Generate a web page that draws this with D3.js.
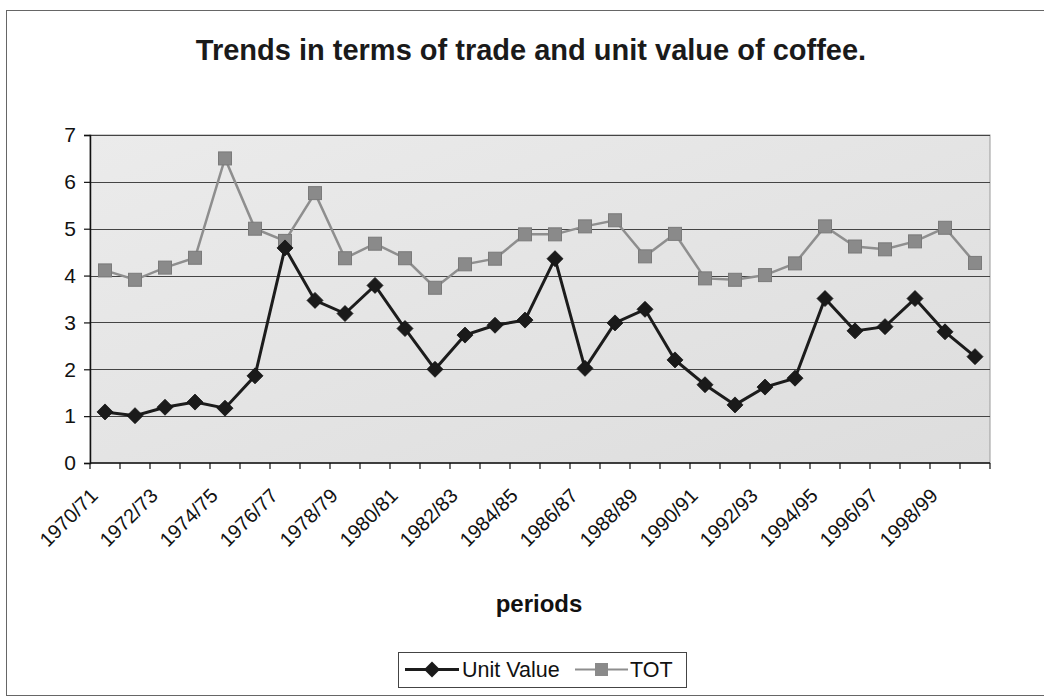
<!DOCTYPE html>
<html>
<head>
<meta charset="utf-8">
<script src="https://cdn.jsdelivr.net/npm/d3@7"></script>
<style>
  html, body { margin: 0; padding: 0; background: #fff; }
  svg { display: block; font-family: "Liberation Sans", Arial, sans-serif; }
</style>
</head>
<body>
<svg id="chart" width="1044" height="697"></svg>
<script>
// Crop years (one entry per marker on the chart)
const periods = [
  "1970/71","1971/72","1972/73","1973/74","1974/75","1975/76","1976/77","1977/78",
  "1978/79","1979/80","1980/81","1981/82","1982/83","1983/84","1984/85","1985/86",
  "1986/87","1987/88","1988/89","1989/90","1990/91","1991/92","1992/93","1993/94",
  "1994/95","1995/96","1996/97","1997/98","1998/99","1999/00"
];

// Unit value of coffee exports
const unitValue = [
  1.09, 1.01, 1.19, 1.30, 1.17, 1.86, 4.59, 3.47, 3.19, 3.79,
  2.87, 2.00, 2.73, 2.94, 3.05, 4.36, 2.02, 2.99, 3.28, 2.20,
  1.67, 1.24, 1.62, 1.81, 3.51, 2.82, 2.91, 3.51, 2.80, 2.27
];

// Terms of trade
const tot = [
  4.11, 3.91, 4.17, 4.38, 6.50, 5.00, 4.74, 5.76, 4.37, 4.68,
  4.37, 3.74, 4.24, 4.36, 4.88, 4.88, 5.05, 5.18, 4.41, 4.89,
  3.94, 3.91, 4.01, 4.26, 5.05, 4.62, 4.56, 4.73, 5.02, 4.27
];

const yTicks = [0, 1, 2, 3, 4, 5, 6, 7];
const labelEvery = 2;

const svg = d3.select("#chart");
const W = 1044;
const plot = { left: 90, right: 990, top: 135, bottom: 463 };

// Outer chart frame
svg.append("rect")
  .attr("x", 6.5).attr("y", 10.5)
  .attr("width", W + 10).attr("height", 685)
  .attr("fill", "#fff")
  .attr("stroke", "#666").attr("stroke-width", 1);

// Plot background gradient
const defs = svg.append("defs");
const grad = defs.append("linearGradient").attr("id", "plotBg")
  .attr("x1", "0").attr("y1", "0").attr("x2", "1").attr("y2", "1");
grad.append("stop").attr("offset", "0%").attr("stop-color", "#ebebeb");
grad.append("stop").attr("offset", "100%").attr("stop-color", "#dddddd");

const x = d3.scaleBand().domain(periods).range([plot.left, plot.right]).padding(0);
const y = d3.scaleLinear().domain([0, 7]).range([plot.bottom, plot.top]);
const cx = d => x(d) + x.bandwidth() / 2;

svg.append("rect")
  .attr("x", plot.left).attr("y", plot.top)
  .attr("width", plot.right - plot.left).attr("height", plot.bottom - plot.top)
  .attr("fill", "url(#plotBg)")
  .attr("stroke", "#9a9a9a").attr("stroke-width", 1);

// Horizontal gridlines
svg.append("g").selectAll("line")
  .data(yTicks.filter(t => t > 0))
  .join("line")
  .attr("x1", plot.left).attr("x2", plot.right)
  .attr("y1", d => Math.round(y(d)) + 0.5).attr("y2", d => Math.round(y(d)) + 0.5)
  .attr("stroke", "#444").attr("stroke-width", 1.2);

// Y axis
const yAxis = svg.append("g")
  .attr("transform", `translate(${plot.left},0)`)
  .call(d3.axisLeft(y).tickValues(yTicks).tickSize(6).tickPadding(8).tickFormat(d3.format("d")));
yAxis.select(".domain").attr("stroke", "#111").attr("stroke-width", 1.5);
yAxis.selectAll(".tick line").attr("stroke", "#111").attr("stroke-width", 1.2);
yAxis.selectAll(".tick text")
  .attr("font-size", 21).attr("fill", "#111")
  .attr("font-family", "'Liberation Sans', Arial, sans-serif");

// X axis: ticks on category boundaries
const bounds = periods.map(p => x(p)).concat([x.range()[1]]);
const xAxis = svg.append("g");
xAxis.append("line")
  .attr("x1", plot.left).attr("x2", plot.right)
  .attr("y1", plot.bottom).attr("y2", plot.bottom)
  .attr("stroke", "#111").attr("stroke-width", 1.5);
xAxis.selectAll("line.tick")
  .data(bounds)
  .join("line").attr("class", "tick")
  .attr("x1", d => d).attr("x2", d => d)
  .attr("y1", plot.bottom).attr("y2", plot.bottom + 6)
  .attr("stroke", "#111").attr("stroke-width", 1.2);

// Category labels, every other period, rotated
xAxis.selectAll("text")
  .data(periods.filter((p, i) => i % labelEvery === 0))
  .join("text")
  .attr("transform", d => `translate(${cx(d) - 6},${plot.bottom + 34}) rotate(-45)`)
  .attr("text-anchor", "end")
  .attr("font-size", 20).attr("fill", "#111")
  .text(d => d);

// Series lines
const line = vals => d3.line()
  .x((v, i) => cx(periods[i]))
  .y(v => y(v))(vals);

svg.append("path")
  .attr("d", line(tot))
  .attr("fill", "none").attr("stroke", "#8e8e8e").attr("stroke-width", 2.5);

svg.append("path")
  .attr("d", line(unitValue))
  .attr("fill", "none").attr("stroke", "#1c1c1c").attr("stroke-width", 3);

// Markers
const sq = 13;
svg.append("g").selectAll("rect")
  .data(tot)
  .join("rect")
  .attr("x", (v, i) => cx(periods[i]) - sq / 2)
  .attr("y", v => y(v) - sq / 2)
  .attr("width", sq).attr("height", sq)
  .attr("fill", "#8a8a8a").attr("stroke", "#7a7a7a").attr("stroke-width", 1);

const dm = 8;
svg.append("g").selectAll("path")
  .data(unitValue)
  .join("path")
  .attr("transform", (v, i) => `translate(${cx(periods[i])},${y(v)})`)
  .attr("d", `M0,${-dm}L${dm},0L0,${dm}L${-dm},0Z`)
  .attr("fill", "#1a1a1a").attr("stroke", "#111").attr("stroke-width", 0.8);

// Title
svg.append("text")
  .attr("x", 531).attr("y", 60)
  .attr("text-anchor", "middle")
  .attr("font-size", 29).attr("font-weight", "bold").attr("fill", "#1a1a1a")
  .text("Trends in terms of trade and unit value of coffee.");

// Axis title
svg.append("text")
  .attr("x", 539).attr("y", 612)
  .attr("text-anchor", "middle")
  .attr("font-size", 24).attr("font-weight", "bold").attr("fill", "#111")
  .text("periods");

// Legend
const lg = svg.append("g");
lg.append("rect")
  .attr("x", 398.5).attr("y", 652.5).attr("width", 288).attr("height", 35)
  .attr("fill", "#fff").attr("stroke", "#444").attr("stroke-width", 1);

lg.append("line").attr("x1", 405).attr("x2", 459).attr("y1", 669.5).attr("y2", 669.5)
  .attr("stroke", "#1c1c1c").attr("stroke-width", 3);
lg.append("path")
  .attr("transform", "translate(432,669.5)")
  .attr("d", `M0,${-dm}L${dm},0L0,${dm}L${-dm},0Z`)
  .attr("fill", "#1a1a1a");
lg.append("text").attr("x", 462).attr("y", 677)
  .attr("font-size", 21.5).attr("fill", "#111").text("Unit Value");

lg.append("line").attr("x1", 575).attr("x2", 628).attr("y1", 669.5).attr("y2", 669.5)
  .attr("stroke", "#8e8e8e").attr("stroke-width", 2);
lg.append("rect").attr("x", 595).attr("y", 663).attr("width", 13).attr("height", 13)
  .attr("fill", "#8a8a8a");
lg.append("text").attr("x", 630).attr("y", 677)
  .attr("font-size", 21.5).attr("fill", "#111").text("TOT");
</script>
</body>
</html>
